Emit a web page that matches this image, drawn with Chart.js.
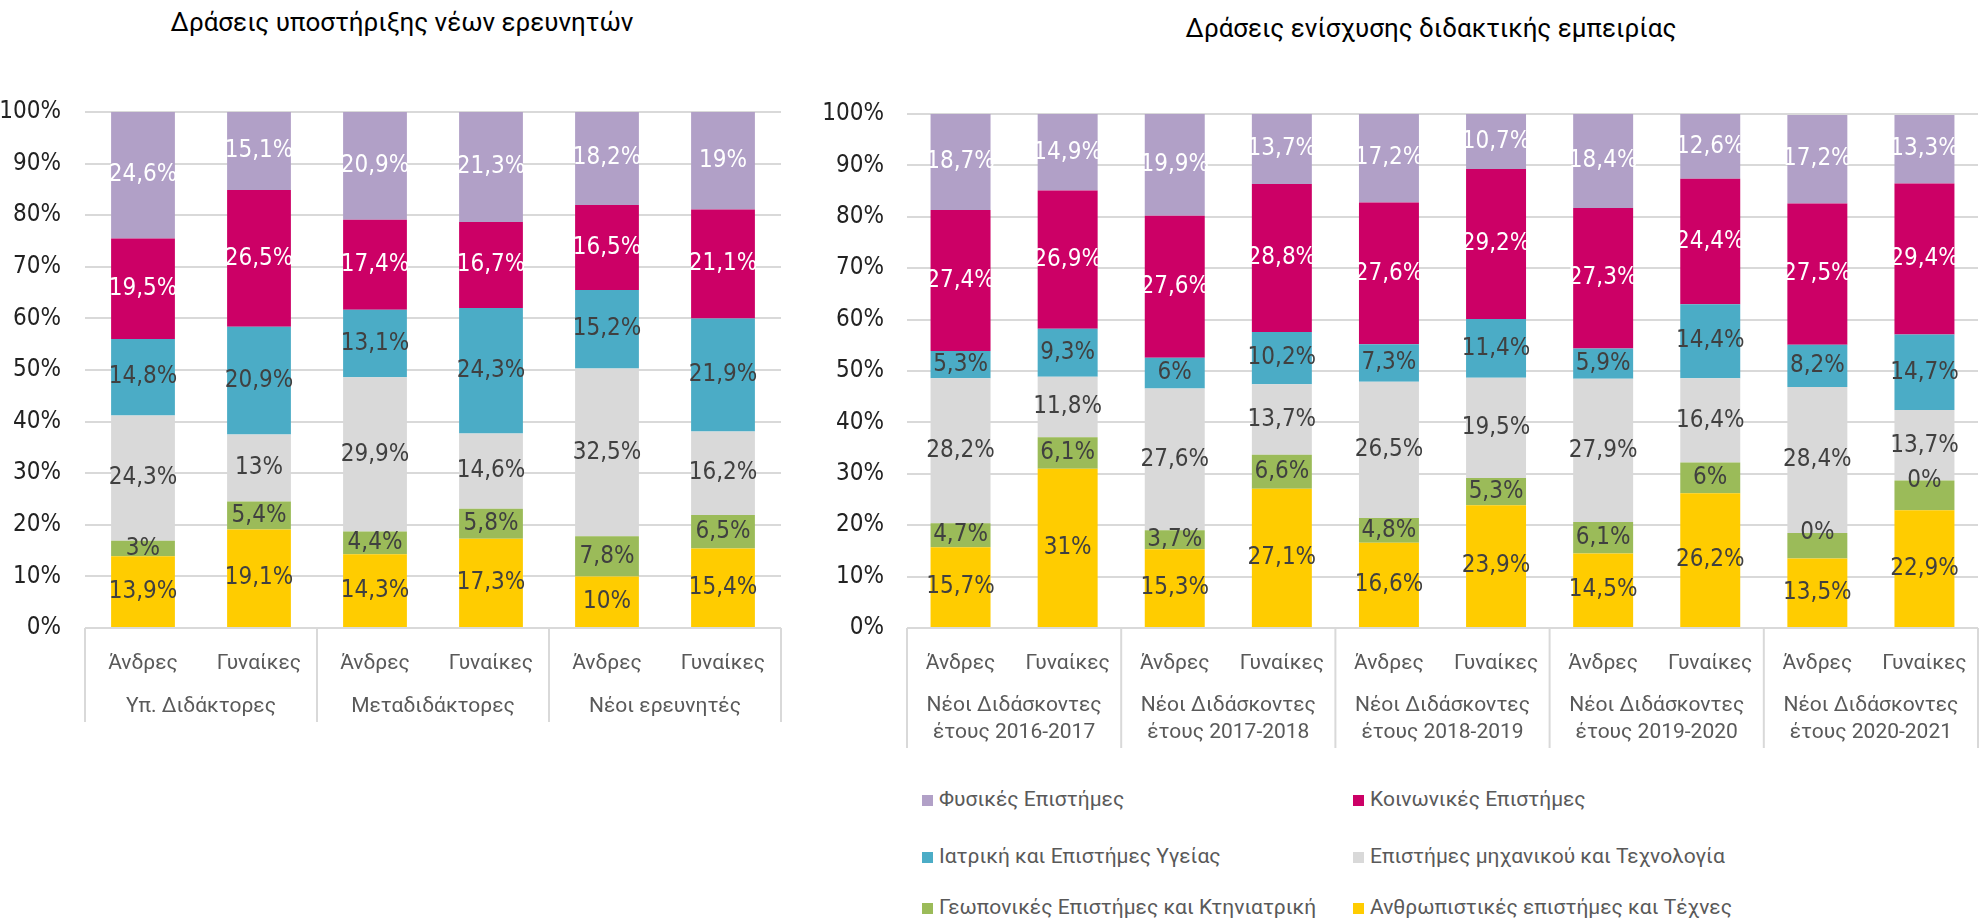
<!DOCTYPE html>
<html>
<head>
<meta charset="utf-8">
<script src="https://cdn.jsdelivr.net/npm/chart.js@4.4.0/dist/chart.umd.min.js"></script>
<style>
    body { margin: 0; background: #fff; width: 1987px; height: 919px; position: relative; overflow: hidden; font-family: Roboto, sans-serif; }
    .title { position: absolute; font-size: 26px; color: #000; white-space: nowrap; transform: translate(-50%, -50%); }
    #leftBox { position: absolute; left: 0; top: 0; width: 800px; height: 760px; }
    #rightBox { position: absolute; left: 800px; top: 0; width: 1187px; height: 760px; }
    .legItem { position: absolute; font-size: 21px; color: #595959; white-space: nowrap; transform: translateY(-50%); }
    .legItem span { display: inline-block; width: 11px; height: 11px; margin-right: 6px; }
</style>
</head>
<body>
<div class="title" style="left:402px; top:22px;">Δράσεις υποστήριξης νέων ερευνητών</div>
<div class="title" style="left:1431px; top:28px;">Δράσεις ενίσχυσης διδακτικής εμπειρίας</div>
<div id="leftBox"><canvas id="leftChart"></canvas></div>
<div id="rightBox"><canvas id="rightChart"></canvas></div>
<div id="legend"></div>

<script>
const NARROW = "'Liberation Sans Narrow', 'DejaVu Sans Condensed', 'Roboto Condensed', sans-serif";

const genders = ["Άνδρες", "Γυναίκες"];
const leftGroups = [["Υπ. Διδάκτορες"], ["Μεταδιδάκτορες"], ["Νέοι ερευνητές"]];
const rightGroups = [
    ["Νέοι Διδάσκοντες", "έτους 2016-2017"],
    ["Νέοι Διδάσκοντες", "έτους 2017-2018"],
    ["Νέοι Διδάσκοντες", "έτους 2018-2019"],
    ["Νέοι Διδάσκοντες", "έτους 2019-2020"],
    ["Νέοι Διδάσκοντες", "έτους 2020-2021"],
];

// stacked bottom -> top
const fields = [
    "Ανθρωπιστικές επιστήμες και Τέχνες",
    "Γεωπονικές Επιστήμες και Κτηνιατρική",
    "Επιστήμες μηχανικού και Τεχνολογία",
    "Ιατρική και Επιστήμες Υγείας",
    "Κοινωνικές Επιστήμες",
    "Φυσικές Επιστήμες",
];
const colors = ["#FFCC00", "#9BBB59", "#D9D9D9", "#4BACC6", "#CC0066", "#B1A0C7"];
const labelColors = ["#404040", "#404040", "#404040", "#404040", "#FFFFFF", "#FFFFFF"];

// Left chart values (%)
const leftHum = [13.9, 19.1, 14.3, 17.3, 10, 15.4];
const leftGeo = [3, 5.4, 4.4, 5.8, 7.8, 6.5];
const leftEng = [24.3, 13, 29.9, 14.6, 32.5, 16.2];
const leftMed = [14.8, 20.9, 13.1, 24.3, 15.2, 21.9];
const leftSoc = [19.5, 26.5, 17.4, 16.7, 16.5, 21.1];
const leftNat = [24.6, 15.1, 20.9, 21.3, 18.2, 19];

// Right chart values (%)
const rightHum = [15.7, 31, 15.3, 27.1, 16.6, 23.9, 14.5, 26.2, 13.5, 22.9];
const rightGeo = [4.7, 6.1, 3.7, 6.6, 4.8, 5.3, 6.1, 6, 5, 5.8];
const rightGeoShown = [4.7, 6.1, 3.7, 6.6, 4.8, 5.3, 6.1, 6, 0, 0]; // labels as printed
const rightEng = [28.2, 11.8, 27.6, 13.7, 26.5, 19.5, 27.9, 16.4, 28.4, 13.7];
const rightMed = [5.3, 9.3, 6, 10.2, 7.3, 11.4, 5.9, 14.4, 8.2, 14.7];
const rightSoc = [27.4, 26.9, 27.6, 28.8, 27.6, 29.2, 27.3, 24.4, 27.5, 29.4];
const rightNat = [18.7, 14.9, 19.9, 13.7, 17.2, 10.7, 18.4, 12.6, 17.2, 13.3];

const yTicks = [0, 10, 20, 30, 40, 50, 60, 70, 80, 90, 100];

Chart.defaults.font.family = "Roboto, sans-serif";
Chart.defaults.animation = false;

function makeDatasets(series, shown) {
    return series.map(function (vals, i) {
        return {
            label: fields[i],
            data: vals,
            shown: shown[i] || null,
            backgroundColor: colors[i],
            labelColor: labelColors[i],
            borderWidth: 0,
        };
    });
}

function fmt(v) {
    return String(v).replace(".", ",") + "%";
}

// value labels in the middle of each segment
const segmentLabels = {
    id: "segmentLabels",
    afterDatasetsDraw(chart) {
        const ctx = chart.ctx;
        ctx.save();
        ctx.font = "24px " + NARROW;
        ctx.textAlign = "center";
        ctx.textBaseline = "middle";
        chart.data.datasets.forEach(function (ds, i) {
            const meta = chart.getDatasetMeta(i);
            meta.data.forEach(function (bar, j) {
                const v = ds.shown ? ds.shown[j] : ds.data[j];
                const y = v === 0 ? bar.y : (bar.y + bar.base) / 2;
                ctx.fillStyle = ds.labelColor;
                ctx.fillText(fmt(v), bar.x, y);
            });
        });
        ctx.restore();
    },
};

// second level of the category axis + separators
const groupAxis = {
    id: "groupAxis",
    afterDraw(chart, args, opts) {
        const ctx = chart.ctx;
        const xs = chart.scales.x;
        const area = chart.chartArea;
        const n = chart.data.labels.length;
        const per = opts.per;
        const px = function (i) { return xs.getPixelForValue(i); };
        ctx.save();
        ctx.strokeStyle = "#D9D9D9";
        ctx.lineWidth = 2;
        for (let g = 0; g <= n / per; g++) {
            let x;
            if (g === 0) x = area.left;
            else if (g === n / per) x = area.right;
            else x = (px(g * per - 1) + px(g * per)) / 2;
            ctx.beginPath();
            ctx.moveTo(x, area.bottom);
            ctx.lineTo(x, opts.bottom);
            ctx.stroke();
        }
        ctx.font = "21px Roboto, sans-serif";
        ctx.fillStyle = "#595959";
        ctx.textAlign = "center";
        ctx.textBaseline = "middle";
        opts.groups.forEach(function (lines, g) {
            const cx = (px(g * per) + px(g * per + per - 1)) / 2;
            lines.forEach(function (t, k) {
                ctx.fillText(t, cx, opts.lineY[k]);
            });
        });
        ctx.restore();
    },
};

function makeChart(id, labels, datasets, cfg) {
    return new Chart(document.getElementById(id).getContext("2d"), {
        type: "bar",
        data: { labels: labels, datasets: datasets },
        options: {
            responsive: true,
            maintainAspectRatio: false,
            events: [],
            layout: { padding: { top: cfg.top, right: cfg.right, left: 0, bottom: 0 } },
            datasets: { bar: { barPercentage: cfg.barPct, categoryPercentage: 1 } },
            plugins: {
                legend: { display: false },
                tooltip: { enabled: false },
                groupAxis: { per: 2, groups: cfg.groups, lineY: cfg.lineY, bottom: cfg.sepBottom },
            },
            scales: {
                x: {
                    stacked: true,
                    grid: { display: false },
                    border: { display: false },
                    ticks: { color: "#595959", font: { size: 21 }, padding: 15, maxRotation: 0, autoSkip: false },
                    afterFit: function (s) { s.height = 132; },
                },
                y: {
                    stacked: true,
                    min: 0,
                    max: 100,
                    afterBuildTicks: function (s) { s.ticks = yTicks.map(function (v) { return { value: v }; }); },
                    grid: { color: "#D9D9D9", lineWidth: 2, drawTicks: false },
                    border: { display: false },
                    ticks: {
                        color: "#222",
                        padding: cfg.tickPad,
                        font: { family: NARROW, size: 24 },
                        callback: function (v) { return v + "%"; },
                    },
                    afterFit: function (s) { s.width = cfg.yWidth; },
                },
            },
        },
        plugins: [segmentLabels, groupAxis],
    });
}

document.addEventListener("DOMContentLoaded", function () {
    const leftLabels = [];
    leftGroups.forEach(function () { leftLabels.push(genders[0], genders[1]); });
    const rightLabels = [];
    rightGroups.forEach(function () { rightLabels.push(genders[0], genders[1]); });

    makeChart("leftChart", leftLabels,
        makeDatasets([leftHum, leftGeo, leftEng, leftMed, leftSoc, leftNat], []),
        { top: 112, right: 19, yWidth: 85, tickPad: 24, barPct: 0.55, groups: leftGroups, lineY: [707], sepBottom: 722 });

    makeChart("rightChart", rightLabels,
        makeDatasets([rightHum, rightGeo, rightEng, rightMed, rightSoc, rightNat], [null, rightGeoShown]),
        { top: 114, right: 9, yWidth: 107, tickPad: 23, barPct: 0.56, groups: rightGroups, lineY: [706, 733], sepBottom: 748 });

    // legend: top of stack first, two columns
    const legend = document.getElementById("legend");
    const colX = [922, 1353];
    const rowY = [799, 856, 907];
    for (let k = 0; k < fields.length; k++) {
        const i = fields.length - 1 - k;
        const item = document.createElement("div");
        item.className = "legItem";
        item.style.left = colX[k % 2] + "px";
        item.style.top = rowY[Math.floor(k / 2)] + "px";
        item.innerHTML = '<span style="background:' + colors[i] + '"></span>' + fields[i];
        legend.appendChild(item);
    }
});
</script>
</body>
</html>
